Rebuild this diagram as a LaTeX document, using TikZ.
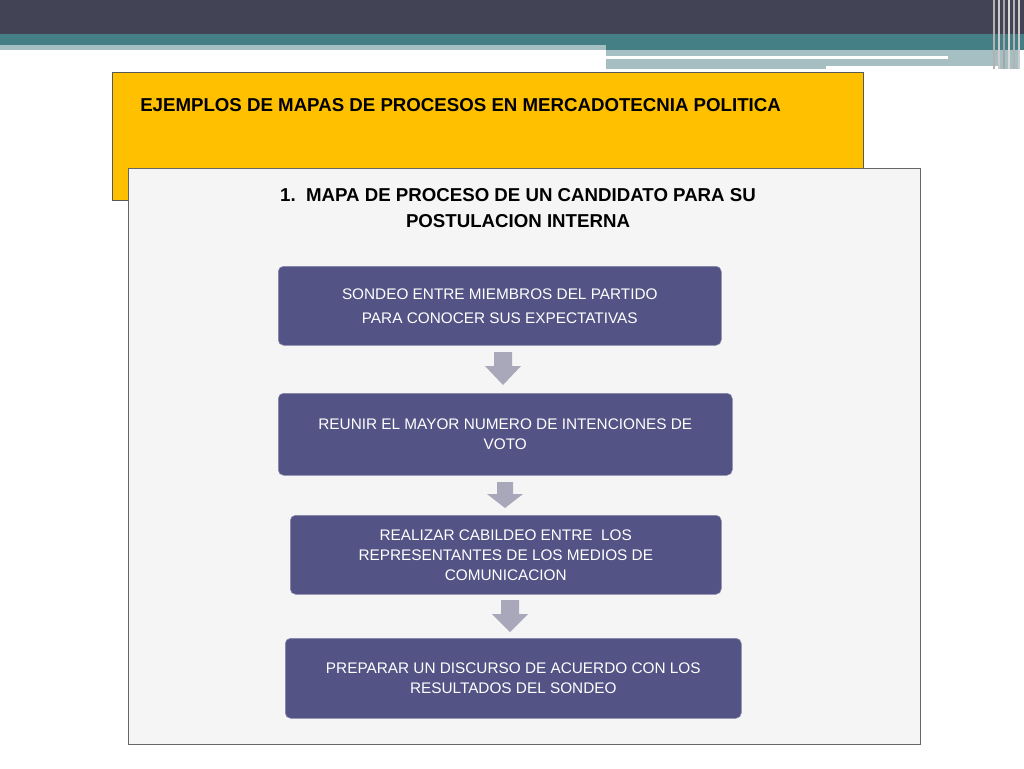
\documentclass[tikz,border=0pt]{standalone}
\usepackage{fontspec}
\setmainfont{Liberation Sans}
\definecolor{dark}{HTML}{434356}
\definecolor{teal}{HTML}{437F84}
\definecolor{lteal}{HTML}{A5BFC3}
\definecolor{boxc}{HTML}{535386}
\definecolor{arr}{HTML}{A8A8BA}
\definecolor{gold}{HTML}{FFC000}
\begin{document}
\begin{tikzpicture}[x=0.75pt,y={(0,-0.75pt)},
  step box/.style={draw=boxc!70!white,fill=boxc,rounded corners=4pt,text=white,font=\fontsize{11.5pt}{15pt}\selectfont,align=center,anchor=north west,inner sep=2pt},
  down/.style={fill=arr,draw=none}]
\useasboundingbox (0,0) rectangle (1024,768);
\fill[white] (0,0) rectangle (1024,768);
\fill[dark] (0,0) rectangle (1024,34);
\fill[teal] (0,34) rectangle (1024,50);
\fill[lteal] (0,45) rectangle (606,50);
\fill[lteal] (606,50) rectangle (1020,69);
\fill[white] (606,56) rectangle (948,59);
\fill[white] (826,66) rectangle (1000,69);
\foreach \xx/\cc in {993/gray!60,998/gray!40,1003/gray!70,1008/gray!30,1013/gray!60,1018/gray!40}
  \fill[\cc] (\xx,0) rectangle (\xx+2,69);
% yellow box
\node[draw=gray!70!black,line width=1pt,fill=gold,minimum width=751*0.75pt,minimum height=128*0.75pt,anchor=north west,inner sep=0] (yb) at (112,72) {};
\node[anchor=north west,text width=698*0.75pt,align=justify,font=\bfseries\fontsize{14pt}{21pt}\selectfont,inner sep=0] (yt) at (140,98) {EJEMPLOS DE MAPAS DE PROCESOS EN MERCADOTECNIA POLITICA};
% panel
\node[draw=gray!80!black,fill=gray!8,line width=0.8pt,minimum width=792*0.75pt,minimum height=576*0.75pt,anchor=north west,inner sep=0] (pn) at (128,168) {};
\node[align=center,font=\bfseries\fontsize{14pt}{19.5pt}\selectfont,inner sep=0] (pt) at (518,208) {1.\ \ MAPA DE PROCESO DE UN CANDIDATO PARA SU\\POSTULACION INTERNA};
% boxes
\node[step box,minimum width=443*0.75pt,minimum height=79*0.75pt] (b1) at (278,266) {SONDEO ENTRE MIEMBROS DEL PARTIDO\\[3pt]PARA CONOCER SUS EXPECTATIVAS};
\node[step box,minimum width=454*0.75pt,minimum height=82*0.75pt] (b2) at (278,393) {REUNIR EL MAYOR NUMERO DE INTENCIONES DE\\VOTO};
\node[step box,minimum width=431*0.75pt,minimum height=79*0.75pt] (b3) at (290,515) {REALIZAR CABILDEO ENTRE\ \ LOS\\REPRESENTANTES DE LOS MEDIOS DE\\COMUNICACION};
\node[step box,minimum width=456*0.75pt,minimum height=80*0.75pt] (b4) at (285,638) {PREPARAR UN DISCURSO DE ACUERDO CON LOS\\RESULTADOS DEL SONDEO};
% arrows
\fill[down] (494,352) -- (512,352) -- (512,366) -- (521,366) -- (503,385) -- (485,366) -- (494,366) -- cycle;
\fill[down] (497,482) -- (513,482) -- (513,494) -- (523,494) -- (505,508) -- (487,494) -- (497,494) -- cycle;
\fill[down] (501,600) -- (519,600) -- (519,614) -- (528,614) -- (510,632) -- (492,614) -- (501,614) -- cycle;
\end{tikzpicture}
\end{document}
